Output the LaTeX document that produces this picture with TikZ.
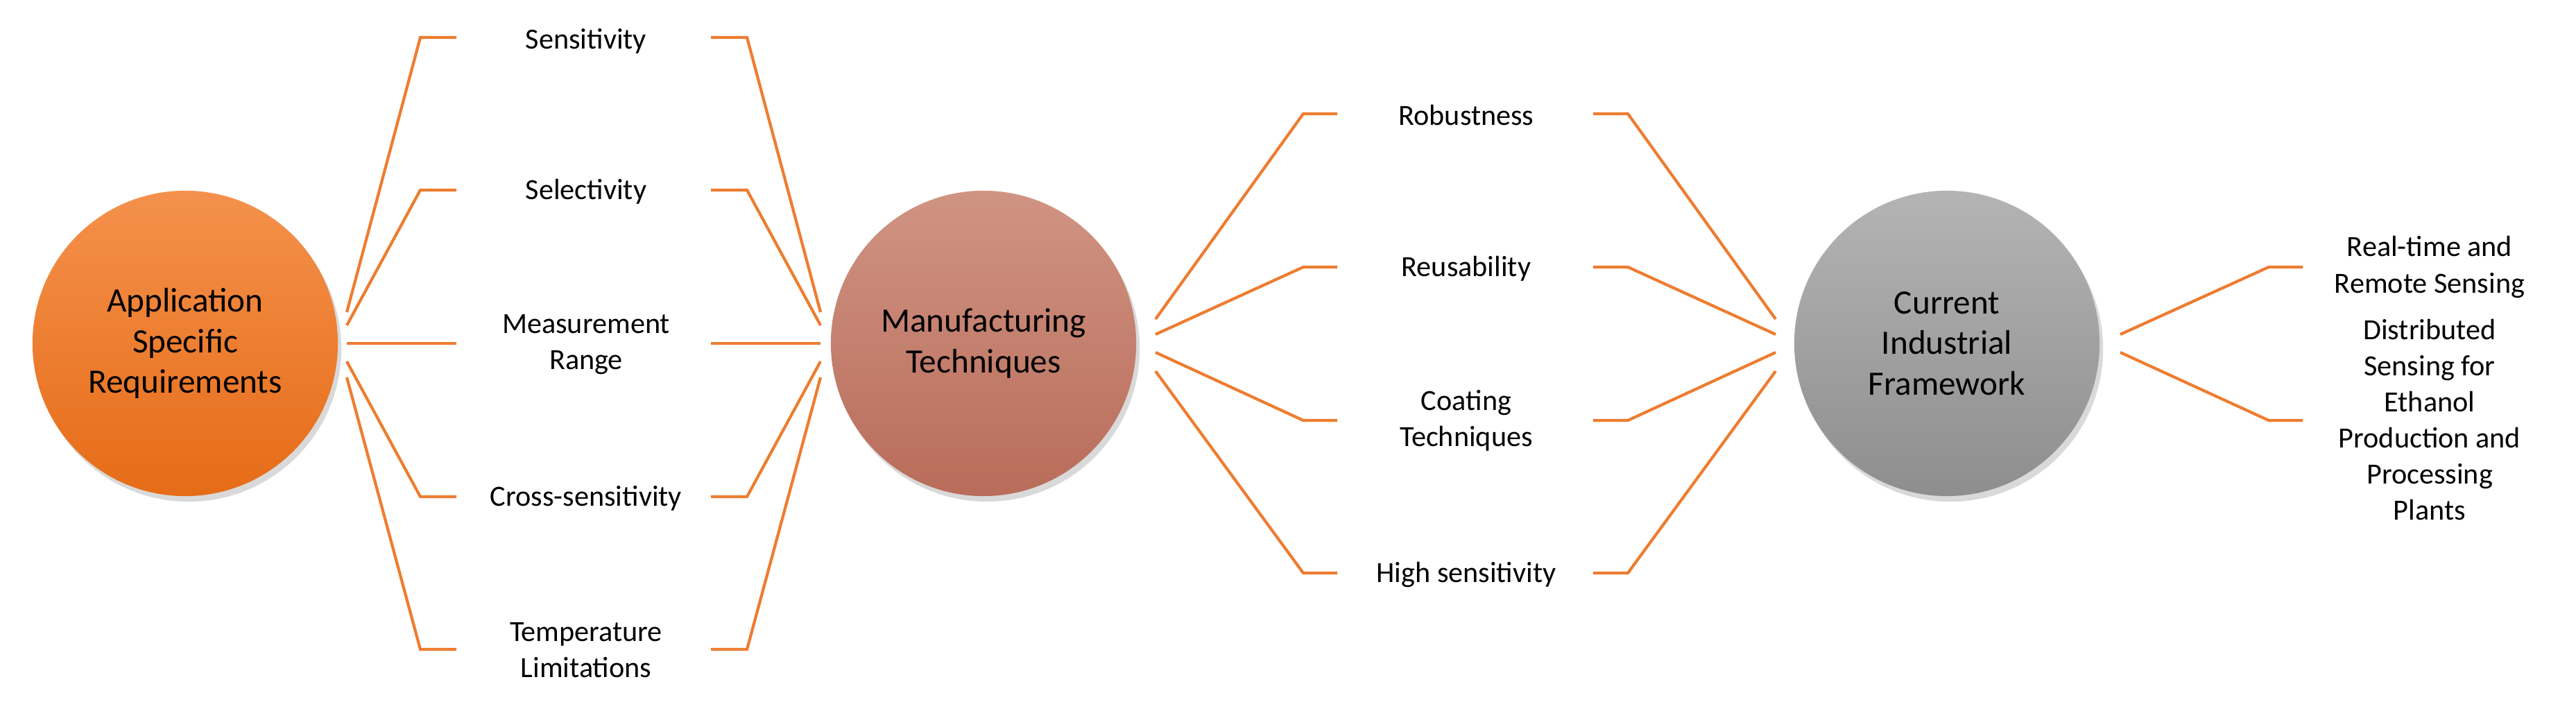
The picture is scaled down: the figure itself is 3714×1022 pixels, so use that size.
\documentclass[tikz,border=0pt]{standalone}
\usepackage{fontspec}
\setmainfont{Carlito}
\usetikzlibrary{shadows}
\definecolor{branchc}{HTML}{ED7D31}
\tikzset{
  branch/.style={draw=branchc, line width=1.2pt},
  hub/.style={circle, minimum size=4.4cm, inner sep=0pt, align=center,
    font=\fontsize{14}{16.7}\selectfont, drop shadow={opacity=0.3, shadow xshift=0.5mm, shadow yshift=-0.8mm}},
  item/.style={align=center, font=\fontsize{12}{14.8}\selectfont}
}
\begin{document}
\begin{tikzpicture}[x=0.01cm, y=-0.01cm]
	\useasboundingbox (0,0) rectangle (3714,1022);
	
	\node[hub, top color=orange!70!white, bottom color=orange!85!black, shading angle=0, top color={rgb,255:red,244;green,145;blue,76}, bottom color={rgb,255:red,230;green,108;blue,23}] (apps) at (267,495) {Application\\Specific\\Requirements};
	\node[hub, top color={rgb,255:red,208;green,148;blue,131}, bottom color={rgb,255:red,185;green,108;blue,90}] (manu) at (1418,495) {Manufacturing\\Techniques};
	\node[hub, top color={rgb,255:red,180;green,180;blue,180}, bottom color={rgb,255:red,142;green,142;blue,142}] (curr) at (2807,495) {Current\\Industrial\\Framework};
	
	\node[item] (sens) at (845,59) {Sensitivity};
	\node[item] (sele) at (845,276) {Selectivity};
	\node[item] (meas) at (845,497) {Measurement\\Range};
	\node[item] (cros) at (845,718) {Cross-sensitivity};
	\node[item] (temp) at (845,937) {Temperature\\Limitations};
	
	\node[item] (robu) at (2114,166) {Robustness};
	\node[item] (reus) at (2114,387) {Reusability};
	\node[item] (coat) at (2114,606) {Coating\\Techniques};
	\node[item] (high) at (2114,828) {High sensitivity};
	
	\node[item] (real) at (3503,385) {Real-time and\\Remote Sensing};
	\node[item] (dist) at (3503,605) {Distributed\\Sensing for\\Ethanol\\Production and\\Processing\\Plants};
	
	% first fan
	\foreach \n/\yr/\ys in {a/54/450, b/274/469, c/495/495, d/716/521, e/936/544}{
		\coordinate (L\n) at (500,\ys);
		\coordinate (R\n) at (1183,\ys);
		\draw[branch] (L\n) -- (606,\yr) -- (658,\yr);
		\draw[branch] (1025,\yr) -- (1077,\yr) -- (R\n);
	}
	% second fan
	\foreach \n/\yr/\ys in {a/164/460, b/385/482, c/606/508, d/826/535}{
		\coordinate (M\n) at (1666,\ys);
		\coordinate (N\n) at (2560,\ys);
		\draw[branch] (M\n) -- (1879,\yr) -- (1928,\yr);
		\draw[branch] (2297,\yr) -- (2347,\yr) -- (N\n);
	}
	% last fan
	\foreach \n/\yr/\ys in {a/385/482, b/606/508}{
		\coordinate (P\n) at (3057,\ys);
		\draw[branch] (P\n) -- (3271,\yr) -- (3320,\yr);
	}
\end{tikzpicture}
\end{document}
